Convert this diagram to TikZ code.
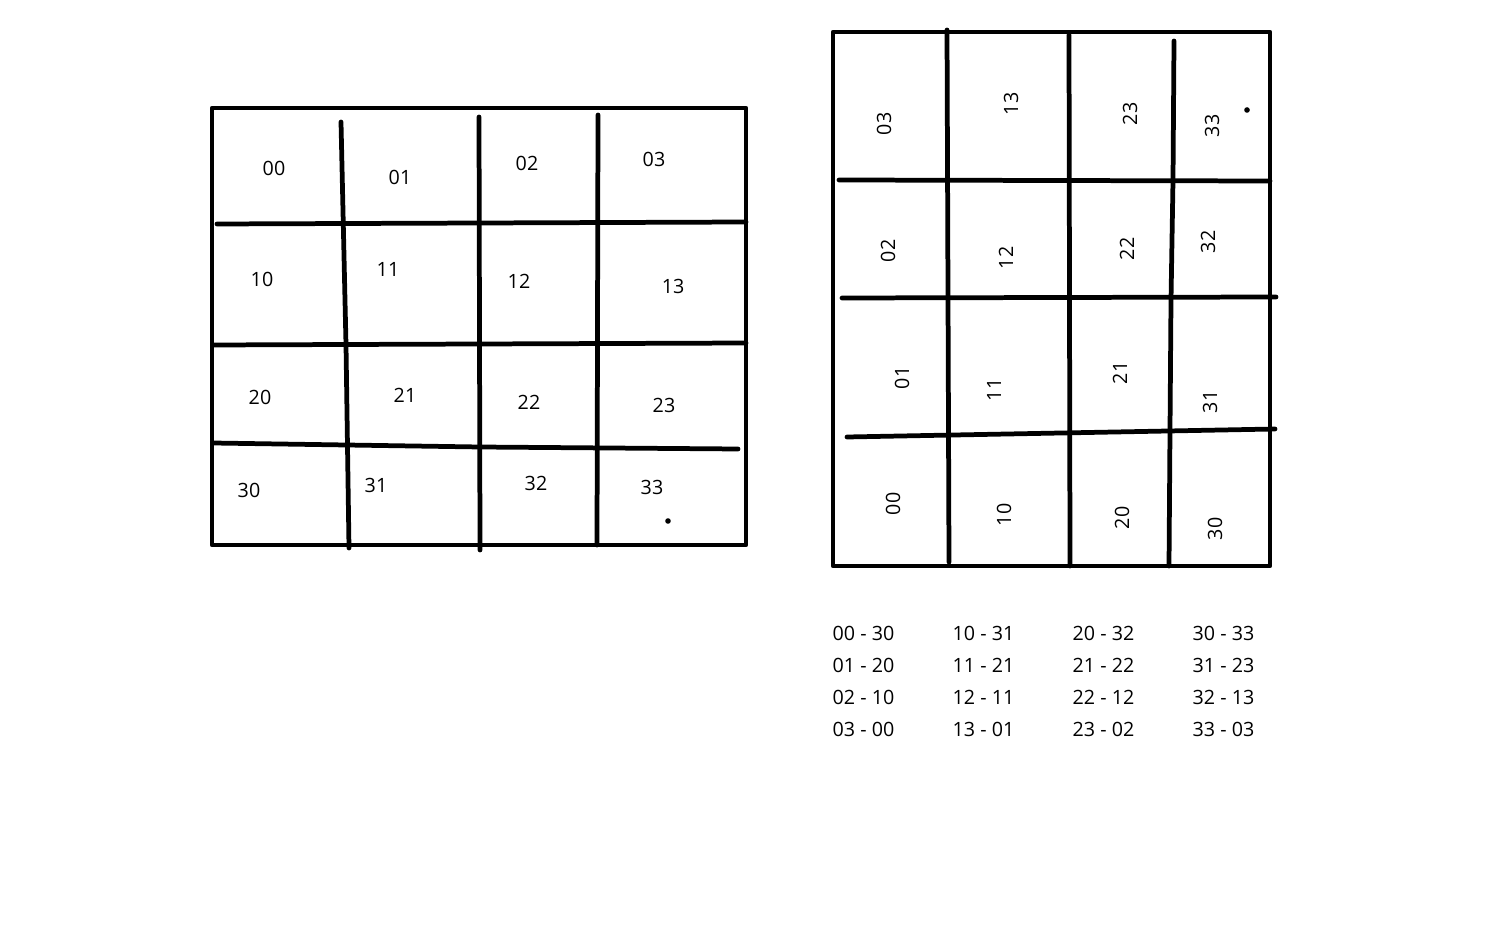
\documentclass[tikz,border=0pt]{standalone}
\usepackage{fontspec}
\setmainfont{Open Sans}
\usepackage{tikz}
\usetikzlibrary{positioning}

\tikzset{
    wall/.style={line width=1.35pt, line cap=round, line join=round},
    cell/.style={inner sep=0pt, font=\fontsize{5.6}{7}\selectfont},
    turned/.style={cell, rotate=90},
    pair/.style={cell, anchor=west}
}

\begin{document}
\begin{tikzpicture}[x=0.01cm, y=-0.01cm]
                	\useasboundingbox (0,0) rectangle (1506,943);

                	% left grid
                	\draw[wall] (212,108) rectangle (746,545);
                	\draw[wall] (341,122) -- (346,345) -- (349,548);
                	\draw[wall] (479,117) -- (480,550);
                	\draw[wall] (598,115) -- (597,545);
                	\draw[wall] (217,224) -- (746,222);
                	\draw[wall] (213,345) -- (746,343);
                	\draw[wall] (213,443) -- (480,447) -- (738,449);
                	\fill (668,521) circle (2.8);

                	\begin{scope}[every node/.style={cell}]
                	    	\node (a00) at (274,168) {00};
                		\node (a01) at (400,177) {01};
                		\node (a02) at (527,163) {02};
                		\node (a03) at (654,159) {03};
                		\node (a10) at (262,279) {10};
                		\node (a11) at (388,269) {11};
                		\node (a12) at (519,281) {12};
                		\node (a13) at (673,286) {13};
                		\node (a20) at (260,397) {20};
                		\node (a21) at (405,395) {21};
                		\node (a22) at (529,402) {22};
                		\node (a23) at (664,405) {23};
                		\node (a30) at (249,490) {30};
                		\node (a31) at (376,485) {31};
                		\node (a32) at (536,483) {32};
                		\node (a33) at (652,487) {33};
                	\end{scope}

                	% right grid, turned
                	\draw[wall] (833,32) rectangle (1270,566);
                	\draw[wall] (947,30) -- (949,562);
                	\draw[wall] (1069,35) -- (1070,566);
                	\draw[wall] (1174,41) -- (1173,180) -- (1171,300) -- (1170,430) -- (1169,566);
                	\draw[wall] (839,180) -- (1270,181);
                	\draw[wall] (842,298) -- (1276,297);
                	\draw[wall] (847,437) -- (1275,429);
                	\fill (1247,110) circle (2.8);

                	\begin{scope}[every node/.style={turned}]
                	    	\node (b03) at (884,124) {03};
                		\node (b13) at (1011,104) {13};
                		\node (b23) at (1130,114) {23};
                		\node (b33) at (1212,126) {33};
                		\node (b02) at (888,251) {02};
                		\node (b12) at (1006,258) {12};
                		\node (b22) at (1127,249) {22};
                		\node (b32) at (1208,242) {32};
                		\node (b01) at (902,378) {01};
                		\node (b11) at (994,390) {11};
                		\node (b21) at (1120,373) {21};
                		\node (b31) at (1210,402) {31};
                		\node (b00) at (893,504) {00};
                		\node (b10) at (1004,515) {10};
                		\node (b20) at (1122,518) {20};
                		\node (b30) at (1215,529) {30};
                	\end{scope}

                	% mapping table
                	\begin{scope}[every node/.style={pair}]
                		\foreach \c/\x/\a/\b/\e/\f in {0/832/30/20/10/00, 1/952/31/21/11/01, 2/1072/32/22/12/02, 3/1192/33/23/13/03}
			{
				\node (m\c0) at (\x,633) {\c0 - \a};
				\node (m\c1) at (\x,665) {\c1 - \b};
				\node (m\c2) at (\x,697) {\c2 - \e};
				\node (m\c3) at (\x,729) {\c3 - \f};
			}
                	\end{scope}
                	\end{tikzpicture}
\end{document}
